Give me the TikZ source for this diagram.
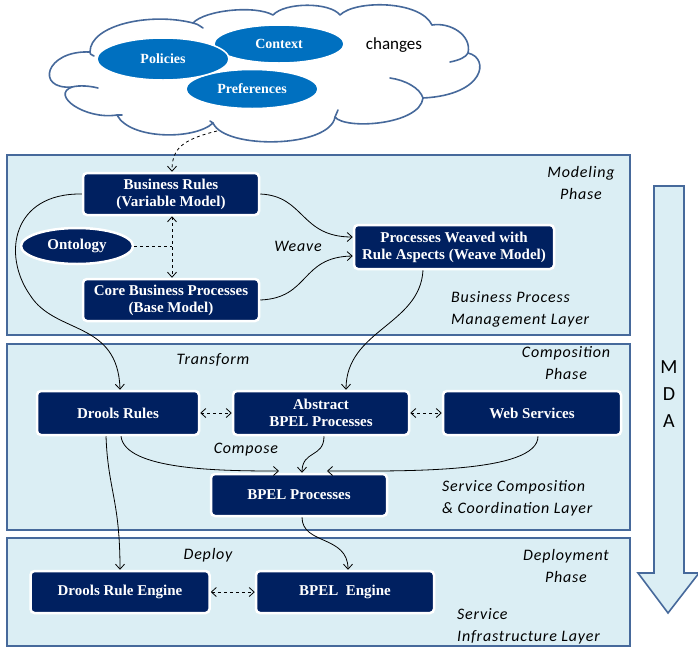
\documentclass[tikz,border=0pt]{standalone}
\usepackage{fontspec}
\setmainfont{Liberation Serif}
\newfontfamily\lblfont[LetterSpace=5]{Carlito}
\newfontfamily\plainfont{Carlito}
\usetikzlibrary{shapes.geometric,arrows.meta}
\definecolor{navy}{RGB}{0,32,96}
\definecolor{ellblue}{RGB}{0,112,192}
\definecolor{layerbg}{RGB}{219,238,244}
\definecolor{edge}{RGB}{70,105,155}
\tikzset{
  box/.style={draw=white, line width=2.5pt, fill=navy, rounded corners=4pt, text=white,
    font=\bfseries\fontsize{15}{17}\selectfont, align=center, inner sep=1pt},
  ell/.style={ellipse, draw=white, line width=1.5pt, fill=ellblue, text=white,
    font=\bfseries\fontsize{14}{16}\selectfont, inner sep=0pt},
  layer/.style={draw=edge, line width=2pt, fill=layerbg, inner sep=0pt},
  lbl/.style={font=\lblfont\itshape\fontsize{16}{22}\selectfont, inner sep=0pt},
  cloudline/.style={draw=edge, line width=1.6pt, line cap=round, line join=round},
  arr/.style={-{Straight Barb[length=5pt,width=9pt]}, line width=0.8pt},
  darr/.style={{Straight Barb[length=5pt,width=9pt]}-{Straight Barb[length=5pt,width=9pt]}, dashed, line width=0.8pt},
}
\begin{document}
\begin{tikzpicture}[x=1pt,y=-1pt]
\useasboundingbox (0,0) rectangle (698,651);
\clip (0,0) rectangle (698,651);

% cloud outline
\draw[cloudline, fill=white]
  (72,87) .. controls (35,90) and (45,50) .. (90,52)
  .. controls (90,25) and (150,12) .. (193,23)
  .. controls (205,10) and (255,5) .. (273,15)
  .. controls (285,2) and (330,2) .. (340,15)
  .. controls (355,0) and (420,0) .. (432,25)
  .. controls (450,22) and (472,35) .. (468,53)
  .. controls (490,58) and (485,95) .. (423,98)
  .. controls (420,125) and (345,130) .. (335,117)
  .. controls (330,148) and (225,150) .. (213,123)
  .. controls (195,140) and (130,140) .. (117,115)
  .. controls (85,120) and (50,95) .. (72,87) -- cycle;
% inner arcs of the cloud
\draw[cloudline] (90,52) .. controls (90,54) .. (94,56);
\draw[cloudline] (193,23) .. controls (197,24) .. (203,28);
\draw[cloudline] (450,62) .. controls (460,60) and (466,57) .. (468,53);
\draw[cloudline] (390,78) .. controls (405,80) and (420,88) .. (423,98);
\draw[cloudline] (72,87) .. controls (80,85) and (90,86) .. (98,88);
\draw[cloudline] (335,117) .. controls (336,114) .. (338,110);
\draw[cloudline] (213,123) .. controls (212,122) .. (210,121);
\draw[cloudline] (117,115) .. controls (119,115) .. (122,115);

\node[ell, minimum width=130pt, minimum height=38pt] (context) at (279,44) {Context};
\node[ell, minimum width=132pt, minimum height=39pt] (prefs) at (252,89) {Preferences};
\node[ell, minimum width=132pt, minimum height=42pt] (policies) at (163,59) {Policies};
\node[font=\plainfont\fontsize{17}{20}\selectfont, inner sep=0pt] (changes) at (394,45) {changes};

% layers
\node[layer, minimum width=623pt, minimum height=180pt] (L1) at (318.5,245) {};
\node[layer, minimum width=623pt, minimum height=186pt] (L2) at (318.5,437) {};
\node[layer, minimum width=623pt, minimum height=108pt] (L3) at (318.5,592) {};

% MDA arrow
\draw[draw=edge, line width=1.6pt, fill=layerbg] (654,186) -- (684,186) -- (684,573) -- (699,573)
  -- (668,613) -- (638,573) -- (654,573) -- cycle;
\node[font=\plainfont\fontsize{20}{27}\selectfont, align=center, inner sep=0pt] (mda) at (669,394) {M\\D\\A};

% layer labels
\node[lbl, align=center] (modph) at (581,183) {Modeling\\Phase};
\node[lbl, anchor=west, align=left] (bpml) at (451,309) {Business Process\\Management Layer};
\node[lbl] (weave) at (298,246) {Weave};
\node[lbl] (transform) at (213,360) {Transform};
\node[lbl, align=center] (compph) at (566,363) {Composition\\Phase};
\node[lbl] (compose) at (246,450) {Compose};
\node[lbl, anchor=west, align=left] (scl) at (442,498) {Service Composition\\\& Coordination Layer};
\node[lbl] (deploy) at (208,555) {Deploy};
\node[lbl, align=center] (depph) at (566,566) {Deployment\\Phase};
\node[lbl, anchor=west, align=left] (sil) at (457,626) {Service\\Infrastructure Layer};

% nodes
\node[box, minimum width=176pt, minimum height=42pt] (br) at (171,194) {Business Rules\\(Variable Model)};
\node[ellipse, draw=white, line width=2.5pt, fill=navy, text=white, font=\bfseries\fontsize{15}{17}\selectfont,
  minimum width=112pt, minimum height=36pt, inner sep=0pt] (onto) at (77,246) {Ontology};
\node[box, minimum width=176pt, minimum height=42pt] (cbp) at (171,300) {Core Business Processes\\(Base Model)};
\node[box, minimum width=200pt, minimum height=44pt] (pw) at (454,247) {Processes Weaved with\\Rule Aspects (Weave Model)};
\node[box, minimum width=162pt, minimum height=44pt] (dr) at (118,413) {Drools Rules};
\node[box, minimum width=176pt, minimum height=44pt] (abs) at (321,413) {Abstract\\BPEL Processes};
\node[box, minimum width=178pt, minimum height=44pt] (ws) at (532,413) {Web Services};
\node[box, minimum width=176pt, minimum height=42pt] (bpel) at (299,495) {BPEL Processes};
\node[box, minimum width=179pt, minimum height=42pt] (dre) at (120,592) {Drools Rule Engine};
\node[box, minimum width=178pt, minimum height=42pt] (be) at (345,592) {BPEL~ Engine};

% connectors
\coordinate (cloudbot) at (217,131);
\draw[arr, dashed] (cloudbot) .. controls (180,140) and (172,150) .. ([xshift=1pt]br.north);
\draw[darr] ([xshift=1pt]br.south) -- ([xshift=1pt]cbp.north);
\coordinate (ontomid) at (172,246);
\draw[dashed, line width=0.8pt] (onto.east) -- (ontomid);
\draw[arr] (br.east) .. controls (305,196) and (300,237) .. ([yshift=10pt]pw.west);
\draw[arr] (cbp.east) .. controls (310,298) and (300,257) .. ([yshift=-9pt]pw.west);
\draw[arr] (br.west) .. controls (12,193) and (2,255) .. (30,295)
  .. controls (55,335) and (118,320) .. ([xshift=2pt]dr.north);
\draw[arr] ([xshift=-31pt]pw.south) .. controls (420,325) and (346,330) .. ([xshift=25pt]abs.north);
\draw[darr] (dr.east) -- (abs.west);
\draw[darr] (abs.east) -- (ws.west);
\draw[arr] ([xshift=3pt]dr.south) .. controls (125,470) and (220,471) .. (279,471);
\draw[arr] ([xshift=3pt]abs.south) .. controls (324,458) and (302,450) .. ([xshift=3pt]bpel.north);
\draw[arr] ([xshift=6pt]ws.south) .. controls (538,474) and (400,471) .. (327,471);
\draw[arr] ([xshift=-12pt]dr.south) .. controls (108,490) and (120,500) .. ([xshift=0pt]dre.north);
\draw[arr] ([xshift=3pt]bpel.south) .. controls (302,545) and (348,535) .. ([xshift=3pt]be.north);
\draw[darr] (dre.east) -- (be.west);
\end{tikzpicture}
\end{document}
